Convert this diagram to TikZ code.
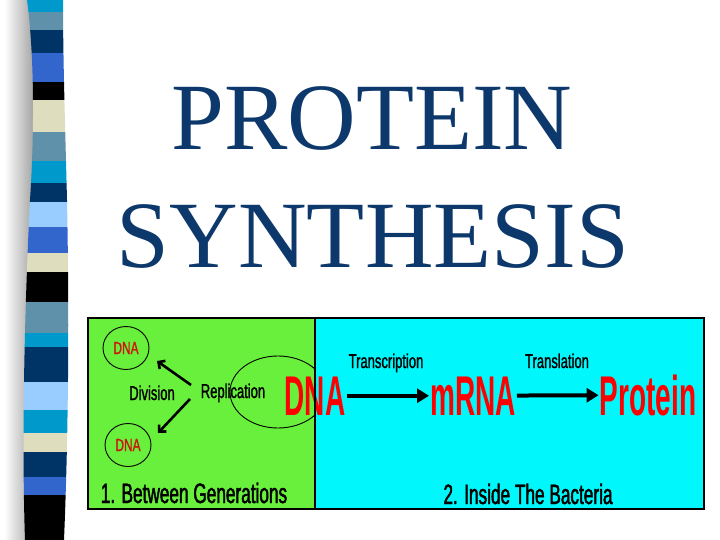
\documentclass[tikz,border=0pt]{standalone}
\usepackage{fontspec}
\setmainfont{Liberation Serif}
\newfontfamily\smallfont[FakeStretch=0.65,FakeBold=1.2]{Liberation Sans}
\newfontfamily\labelfont[FakeStretch=0.615,FakeBold=1.6]{Liberation Sans}
\newfontfamily\circfont[FakeStretch=0.68,FakeBold=1]{Liberation Sans}
\newfontfamily\bigfont[FakeStretch=0.5]{Liberation Sans Bold}
\usetikzlibrary{arrows.meta,shapes.geometric}
\definecolor{titleblue}{RGB}{12,56,108}
\definecolor{panelgreen}{RGB}{105,240,60}
\definecolor{panelcyan}{RGB}{0,248,252}
\definecolor{sbcyan}{RGB}{0,153,204}
\definecolor{sbsteel}{RGB}{95,145,170}
\definecolor{sbnavy}{RGB}{0,51,102}
\definecolor{sbroyal}{RGB}{51,102,204}
\definecolor{sbbeige}{RGB}{222,222,190}
\definecolor{sblight}{RGB}{153,204,255}
\definecolor{dnared}{RGB}{205,20,10}
\begin{document}
\begin{tikzpicture}[x=1pt,y=-1pt,
  title/.style={font=\fontsize{95}{95}\selectfont, text=titleblue, inner sep=0pt, anchor=base},
  smalltext/.style={font=\smallfont\fontsize{20}{20}\selectfont, text=black, inner sep=0pt, anchor=base},
  panellabel/.style={font=\labelfont\fontsize{28}{28}\selectfont, text=black, inner sep=0pt, anchor=base},
  bigword/.style={font=\bigfont\fontsize{56}{56}\selectfont, text=red, inner sep=1pt, anchor=base},
  dnacirc/.style={draw=black, line width=0.9pt, ellipse, inner sep=0pt, minimum width=46pt, minimum height=43pt,
                  font=\circfont\fontsize{17.5}{17.5}\selectfont, text=dnared},
  bigarrow/.style={line width=4pt, -{Triangle[length=12pt,width=14pt]}},
  thinarrow/.style={line width=2.6pt, -{Straight Barb[length=5pt,width=10pt]}}
]
\useasboundingbox (0,0) rectangle (720,540);
\fill[white] (0,0) rectangle (720,540);
% shadow of stripe
\shade[left color=white, right color=gray!70] (4,0) rectangle (33,540);
% stripe
\begin{scope}
\clip (27,0) .. controls (35,60) and (34,140) .. (30,200) .. controls (26,280) and (21,420) .. (25,540)
  -- (64,540) .. controls (69,420) and (69,300) .. (67,200) .. controls (65,120) and (63,60) .. (63,0) -- cycle;
\foreach \a/\b/\c in {0/12/sbcyan, 12/30/sbsteel, 30/53/sbnavy, 53/82/sbroyal, 82/100/black,
  100/132/sbbeige, 132/161/sbsteel, 161/183/sbcyan, 183/202/sbnavy, 202/227/sblight, 227/253/sbroyal,
  253/272/sbbeige, 272/302/black, 302/333/sbsteel, 333/347/sbcyan, 347/382/sbnavy, 382/410/sblight,
  410/433/sbcyan, 433/452/sbbeige, 452/477/sbnavy, 477/495/sbroyal, 495/540/black}
  {\fill[\c] (0,\a) rectangle (80,\b);}
\end{scope}
% title
\node[title] (t1) at (372,150) {PROTEIN};
\node[title] (t2) at (373,267) {SYNTHESIS};
% panels
\fill[panelgreen] (88,318) rectangle (315,509);
\fill[panelcyan] (315,318) rectangle (704,509);
\begin{scope}
\clip (88,318) rectangle (315,509);
\draw[line width=0.9pt] (278,392) ellipse [x radius=48pt, y radius=36pt];
\end{scope}
% left panel content
\node[dnacirc] (dna1) at (126,348) {DNA};
\node[dnacirc] (dna2) at (128,445) {DNA};
\node[smalltext] (div) at (152,400) {Division};
\node[smalltext] (rep) at (233,398) {Replication};
\coordinate (s1) at (191,385);
\coordinate (e1) at (157,361);
\coordinate (s2) at (190,399);
\coordinate (e2) at (158,433);
\draw[thinarrow] (s1) -- (e1);
\draw[thinarrow] (s2) -- (e2);
\node[panellabel] (lab1) at (194,503) {1. Between Generations};
% right panel content
\node[bigword] (dna) at (315,415) {DNA};
\node[bigword] (mrna) at (473,415) {mRNA};
\node[bigword] (prot) at (648,415) {Protein};
\draw[bigarrow] (dna) -- (mrna);
\draw[bigarrow] (mrna) -- (prot);
\node[smalltext] (tc) at (386,368) {Transcription};
\node[smalltext] (tl) at (557,368) {Translation};
\node[panellabel] (lab2) at (528,504) {2. Inside The Bacteria};
% divider and border
\draw[line width=2pt] (315,318) -- (315,509);
\draw[line width=2pt] (88,318) rectangle (704,509);
\end{tikzpicture}
\end{document}
